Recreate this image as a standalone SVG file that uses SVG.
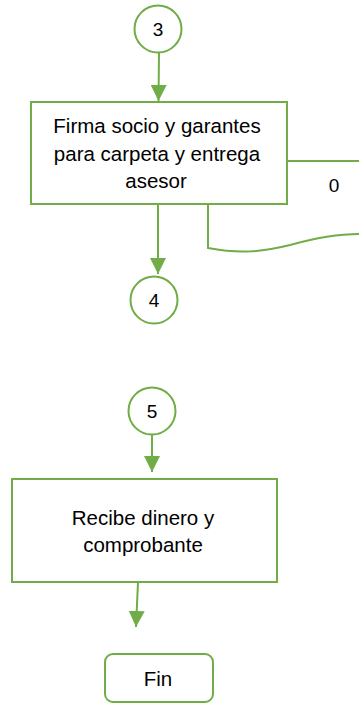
<svg xmlns="http://www.w3.org/2000/svg" width="359" height="703" viewBox="0 0 359 703">
  <style>
    .shape { fill: #ffffff; stroke: #70AD47; stroke-width: 2; }
    .conn { fill: none; stroke: #70AD47; stroke-width: 2; }
    .label { font-family: "Liberation Sans", Arial, sans-serif; font-size: 20.5px; fill: #000000; text-anchor: middle; }
    .num { font-family: "Liberation Sans", Arial, sans-serif; font-size: 19px; fill: #000000; text-anchor: middle; }
  </style>
  <defs>
    <marker id="arrow" viewBox="0 0 16 16" refX="16" refY="8" markerWidth="16" markerHeight="16" markerUnits="userSpaceOnUse" orient="auto">
      <path d="M0,0 L16,8 L0,16 Z" fill="#70AD47"/>
    </marker>
  </defs>
  <rect width="359" height="703" fill="#ffffff"/>

  <g id="connectors">
    <path class="conn" d="M159,53 L158.5,101" marker-end="url(#arrow)"/>
    <path class="conn" d="M158,204 L158,274" marker-end="url(#arrow)"/>
    <path class="conn" d="M287,161 L359,161"/>
    <path class="conn" d="M208,204 L208,248 C240,254 262,252 290,245 C315,238 335,234 359,234"/>
    <path class="conn" d="M152,434 L152,472" marker-end="url(#arrow)"/>
    <path class="conn" d="M138,582 L136,627" marker-end="url(#arrow)"/>
    <text class="num" x="334" y="192">0</text>
  </g>

  <g id="c3">
    <circle class="shape" cx="158" cy="29" r="23.5"/>
    <text class="num" x="158" y="36">3</text>
  </g>

  <g id="firma">
    <rect class="shape" x="31" y="102" width="256" height="102"/>
    <text class="label" x="157" y="133">Firma socio y garantes</text>
    <text class="label" x="157" y="161">para carpeta y entrega</text>
    <text class="label" x="156" y="188">asesor</text>
  </g>

  <g id="c4">
    <circle class="shape" cx="154" cy="300" r="23.5"/>
    <text class="num" x="154" y="307">4</text>
  </g>

  <g id="c5">
    <circle class="shape" cx="152" cy="411" r="23.5"/>
    <text class="num" x="152" y="418">5</text>
  </g>

  <g id="recibe">
    <rect class="shape" x="12" y="479" width="265" height="103"/>
    <text class="label" x="143" y="525">Recibe dinero y</text>
    <text class="label" x="143" y="552">comprobante</text>
  </g>

  <g id="fin">
    <rect class="shape" x="105" y="654" width="108" height="48" rx="8" ry="8"/>
    <text class="label" x="158" y="686">Fin</text>
  </g>
</svg>
